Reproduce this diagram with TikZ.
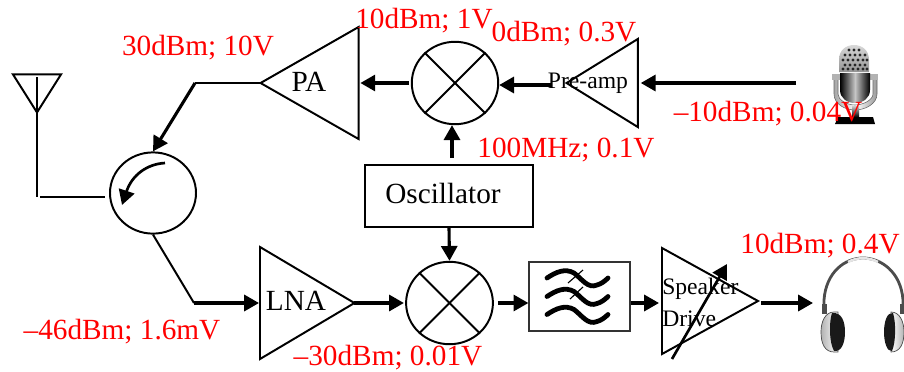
\documentclass[tikz,border=0pt]{standalone}
\usepackage{fontspec}
\setmainfont{Liberation Serif}
\usetikzlibrary{arrows.meta,shapes.geometric,positioning}

\begin{document}
\begin{tikzpicture}[x=0.025cm, y=-0.025cm,
  every node/.style={font=\fontsize{20.8}{24}\selectfont},
  amp/.style={draw, isosceles triangle, isosceles triangle stretches, inner sep=0pt, line width=1.4pt},
  mixer/.style={draw, ellipse, inner sep=0pt, line width=1.4pt},
  box/.style={draw, inner sep=0pt, line width=1.4pt},
  wire/.style={line width=1.4pt},
  sig/.style={-{Triangle[length=0.37cm,width=0.4cm]}, line width=2.2pt},
  lvl/.style={text=red, inner sep=0pt, anchor=base},
  blockname/.style={inner sep=0pt, anchor=base},
  small/.style={font=\fontsize{16.8}{22.8}\selectfont, inner sep=0pt, align=left},
  wave/.style={line width=3.4pt, line cap=round}]
  \useasboundingbox (0,0) rectangle (904,371);

  % Microphone
  \shade[left color=gray!70, right color=gray!80, middle color=white, draw=black!60, line width=0.4pt] (834,78) -- (834,94) .. controls (834,104) and (845,110) .. (855,110) .. controls (865,110) and (877,104) .. (877,94) -- (877,78) -- (873,78) -- (873,94) .. controls (873,100) and (863,105) .. (855,105) .. controls (847,105) and (838,100) .. (838,94) -- (838,78) -- cycle;
  \fill[gray!60] (832,74) rectangle (878,80);
  \shade[top color=gray!40, bottom color=black] (852,106) rectangle (859,117);
  \fill[black] (835,124) -- (838,117) -- (873,117) -- (875,124) -- cycle;
  \shade[top color=gray!30, bottom color=gray!85] (839,72) -- (839,60) .. controls (839,50) and (846,45) .. (854,45) .. controls (862,45) and (869,50) .. (869,60) -- (869,72) -- cycle;
  \foreach \row/\dotx in {50/849,50/854,50/859,55/845,55/850,55/855,55/860,55/865,60/843,60/848,60/853,60/858,60/863,60/867,65/845,65/850,65/855,65/860,65/865,69/843,69/848,69/853,69/858,69/863,69/867}
    \fill[black!85] (\dotx,\row) circle[radius=0.04cm];
  \shade[left color=black, right color=black, middle color=gray!45] (840,73) -- (870,73) -- (870,90) .. controls (870,98) and (863,103) .. (855,103) .. controls (847,103) and (840,98) .. (840,90) -- cycle;

  % Headphones
  \draw[line width=2pt, black!70] (824,307) -- (824,300) .. controls (826,272) and (845,258) .. (863,258) .. controls (881,258) and (901,272) .. (903,300) -- (903,307);
  \draw[line width=1.8pt, gray!20] (848,262) .. controls (857,257) and (869,257) .. (878,262);
  \fill[black!70] (822,304) rectangle (827,314);
  \fill[black!70] (900,304) rectangle (904,314);
  \shade[left color=gray!60, right color=white, draw=black!70, line width=0.5pt] (834,312) .. controls (825,312) and (821,322) .. (821,332) .. controls (821,344) and (825,352) .. (834,352) -- (838,352) -- (838,312) -- cycle;
  \fill[black!90] (832,313) .. controls (829,322) and (829,342) .. (834,351) .. controls (842,352) and (845,342) .. (845,332) .. controls (845,322) and (842,312) .. (832,313) -- cycle;
  \shade[left color=white, right color=gray!60, draw=black!70, line width=0.5pt] (891,312) .. controls (900,312) and (904,322) .. (904,332) .. controls (904,344) and (900,352) .. (891,352) -- cycle;
  \fill[black!90] (893,313) .. controls (896,322) and (896,342) .. (892,351) .. controls (887,352) and (884,342) .. (884,332) .. controls (884,322) and (887,312) .. (893,313) -- cycle;

  % Antenna
  \node[draw, isosceles triangle, isosceles triangle stretches, shape border rotate=-90, inner sep=0pt, line width=1.4pt, minimum width=1.2cm, minimum height=0.95cm, anchor=apex] (ant) at (37,115) {};
  \coordinate (anttop) at (37,77);
  \coordinate (antfoot) at (37,197);
  \coordinate (antfeed) at (40,197);

  % Circulator
  \node[draw, ellipse, inner sep=0pt, line width=1.4pt, minimum width=2.15cm, minimum height=2.03cm] (circ) at (153,193) {};
  \coordinate (txbend) at (195,83);
  \coordinate (rxbend) at (194,303);
  \coordinate (circfrom) at (165,163);
  \coordinate (circto) at (122,205);

  % Transmit row
  \node[amp, shape border rotate=180, minimum width=2.8cm, minimum height=2.45cm, anchor=apex] (pa) at (258,83) {};
  \node[mixer, minimum width=2.16cm, minimum height=2.06cm] (mixtx) at (455,83) {};
  \node[amp, shape border rotate=180, minimum width=2.2cm, minimum height=1.78cm, anchor=apex] (pre) at (564,83) {};
  \coordinate (micout) at (796,83);
  \coordinate (lostub) at (452,158);

  % Oscillator
  \node[box, minimum width=4.2cm, minimum height=1.55cm] (osc) at (449,196) {};
  \node[blockname] (osctext) at (443,203) {Oscillator};

  % Receive row
  \node[amp, minimum width=2.8cm, minimum height=2.36cm, anchor=lower side] (lna) at (259,303) {};
  \node[mixer, minimum width=2.17cm, minimum height=2.06cm] (mixrx) at (449.5,303) {};
  \node[draw=black!80, line width=1pt, inner sep=0pt, minimum width=2.52cm, minimum height=1.72cm] (filt) at (579.5,296.5) {};
  \node[amp, minimum width=2.65cm, minimum height=2.4cm, anchor=lower side] (spk) at (661,301) {};
  \coordinate (phones) at (813,303);

  % Mixer crosses
  \draw[wire] (mixtx.45) -- (mixtx.225);
  \draw[wire] (mixtx.135) -- (mixtx.315);
  \draw[wire] (mixrx.45) -- (mixrx.225);
  \draw[wire] (mixrx.135) -- (mixrx.315);

  % Filter waves
  \foreach \dy in {0,18.5,36.5}
    \draw[wave, yshift=\dy*-0.025cm] (547,278) .. controls (556,272) and (565,268) .. (574,273) .. controls (582,279) and (588,289) .. (597,285) .. controls (601,284) and (605,281) .. (608,278);
  \draw[line width=0.8pt] (568,283) -- (583,270);
  \draw[line width=0.8pt] (570,299) -- (583,287);

  % Antenna wiring
  \draw[wire] (anttop) -- (antfoot);
  \draw[wire] (antfeed) -- ([xshift=-0.1cm]circ.west |- antfeed);

  % Transmit path
  \draw[sig] (micout) -- ([xshift=0.05cm]pre.lower side);
  \draw[sig] ([shift={(-0.3cm,-0.05cm)}]pre.apex) -- ([yshift=-0.05cm]mixtx.east);
  \draw[sig, shorten <=0.05cm, shorten >=0.02cm] (mixtx.west) -- (pa.lower side);
  \draw[wire, shorten <=-0.08cm] (pa.apex) -- (txbend);
  \draw[sig] (txbend) -- (circ.north);
  \draw[sig, line width=1.9pt] (circfrom) .. controls (147,164) and (132,175) .. (circto);

  % Receive path
  \draw[wire] (circ.south) -- (rxbend);
  \draw[sig] (rxbend) -- (lna.lower side);
  \draw[sig, shorten <=-0.08cm] (lna.apex) -- ([xshift=-0.03cm]mixrx.west);
  \draw[sig, shorten <=0.1cm] (mixrx.east) -- (filt.west |- mixrx.east);
  \draw[sig] (filt.east |- phones) -- ([xshift=-0.05cm]spk.lower side |- phones);
  \draw[sig] ([xshift=0.02cm]spk.apex |- phones) -- (phones);
  \draw[sig] (lostub) -- (lostub |- mixtx.south);
  \draw[sig] (osc.south) -- (mixrx.north);

  % Gain arrow through the speaker driver
  \coordinate (gainlow) at (672,359);
  \coordinate (gainhigh) at (727,264);
  \draw[sig, line width=1.9pt] (gainlow) -- (gainhigh);

  % Block names
  \node[blockname] (patext) at (309,91) {PA};
  \node[blockname] (lnatext) at (296,310) {LNA};
  \node[small, anchor=base] (pretext) at (588,88) {Pre-amp};
  \node[small, anchor=west] (spktext) at (662,302) {Speaker\\Drive};

  % Levels
  \node[lvl] (lvlpa) at (198,55) {30dBm; 10V};
  \node[lvl] (lvlmix) at (424,28) {10dBm; 1V};
  \node[lvl] (lvlpre) at (564,41) {0dBm; 0.3V};
  \node[lvl] (lvllo) at (566,157) {100MHz; 0.1V};
  \node[lvl] (lvlmic) at (768,121) {–10dBm; 0.04V};
  \node[lvl] (lvlspk) at (820,253) {10dBm; 0.4V};
  \node[lvl] (lvlant) at (122,339) {–46dBm; 1.6mV};
  \node[lvl] (lvllna) at (388,365.5) {–30dBm; 0.01V};
\end{tikzpicture}
\end{document}
